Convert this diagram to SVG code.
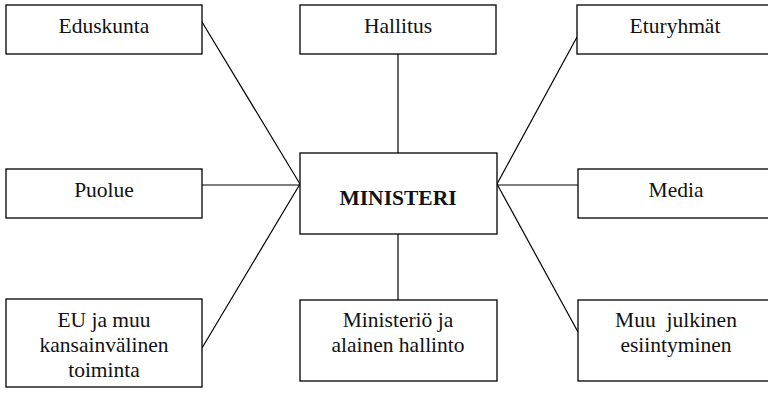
<svg xmlns="http://www.w3.org/2000/svg" width="768" height="398" viewBox="0 0 768 398">
<style>
.box{fill:#fff;stroke:#000;stroke-width:1.3}
.t{font-family:"Liberation Serif","Times New Roman",serif;font-size:21.5px;fill:#111;text-anchor:middle}
.b{font-weight:bold}
.c line{stroke:#000;stroke-width:1.2}
</style>
<rect width="768" height="398" fill="#fff"/>
<g class="c" id="connectors">
<line x1="202" y1="22" x2="300" y2="184"/>
<line x1="398" y1="54" x2="398" y2="153"/>
<line x1="577" y1="37" x2="497" y2="184"/>
<line x1="202" y1="185" x2="300" y2="185"/>
<line x1="497" y1="185" x2="578" y2="185"/>
<line x1="202" y1="348" x2="300" y2="184"/>
<line x1="398" y1="234" x2="398" y2="300"/>
<line x1="578" y1="332" x2="497" y2="184"/>
</g>
<g id="eduskunta"><rect class="box" x="6" y="5" width="196" height="49"/><text class="t" x="104" y="33">Eduskunta</text></g>
<g id="hallitus"><rect class="box" x="300" y="5" width="196" height="49"/><text class="t" x="398" y="33">Hallitus</text></g>
<g id="eturyhmat"><rect class="box" x="577" y="5" width="196" height="49"/><text class="t" x="675" y="33">Eturyhmät</text></g>
<g id="puolue"><rect class="box" x="6" y="169" width="196" height="49"/><text class="t" x="104" y="197">Puolue</text></g>
<g id="ministeri"><rect class="box" x="300" y="153" width="197" height="81"/><text class="t b" x="398" y="205">MINISTERI</text></g>
<g id="media"><rect class="box" x="578" y="169" width="196" height="49"/><text class="t" x="676" y="197">Media</text></g>
<g id="eu"><rect class="box" x="6" y="299" width="196" height="88"/><text class="t" x="104" y="327">EU ja muu</text><text class="t" x="104" y="352">kansainvälinen</text><text class="t" x="104" y="377">toiminta</text></g>
<g id="ministerio"><rect class="box" x="300" y="300" width="197" height="81"/><text class="t" x="398" y="327">Ministeriö ja</text><text class="t" x="398" y="352">alainen hallinto</text></g>
<g id="muu"><rect class="box" x="578" y="300" width="196" height="81"/><text class="t" x="676" y="327" xml:space="preserve">Muu  julkinen</text><text class="t" x="676" y="352">esiintyminen</text></g>
</svg>
